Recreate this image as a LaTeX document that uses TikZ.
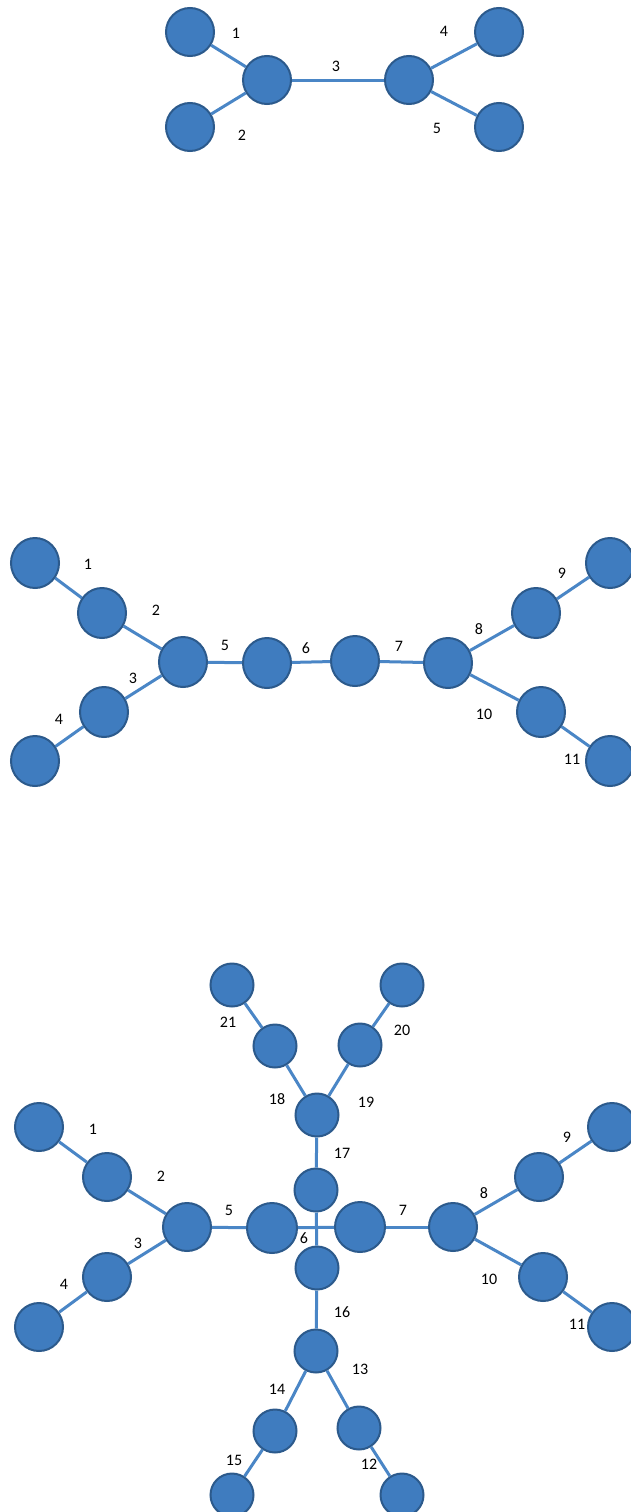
\documentclass[tikz,border=0pt]{standalone}
\usepackage{fontspec}
\setmainfont{Carlito}
\usepackage{xcolor}
\usepackage{tikz}
\definecolor{vfill}{HTML}{3F7CBF}
\definecolor{vdraw}{HTML}{2C5A8C}
\definecolor{elink}{HTML}{4A86C6}
\tikzset{
  vert/.style={
    draw=vdraw,
    fill=vfill,
    ellipse,
    line width=2pt,
    minimum width=48pt,
    minimum height=48pt,
    inner sep=0pt
  },
  tall/.style={vert,minimum width=48pt,minimum height=50pt},
  small/.style={vert,minimum width=43pt,minimum height=43pt},
  big/.style={vert,minimum width=50pt,minimum height=50pt},
  link/.style={draw=elink,line width=3pt},
  num/.style={font=\fontsize{16}{18}\selectfont,inner sep=0pt}
}
\usetikzlibrary{shapes.geometric}
\begin{document}
\begin{tikzpicture}[x=1pt,y=-1pt]
  \useasboundingbox[fill=white] (0,0) rectangle (631,1512);
  % first tree
  \node[vert] (a1) at (190,32) {};
  \node[vert] (a2) at (190,127) {};
  \node[vert] (a3) at (267,80) {};
  \node[vert] (a4) at (409,80) {};
  \node[vert] (a5) at (499,32) {};
  \node[vert] (a6) at (499,127) {};
  \draw[link] (a1) -- (a3);
  \draw[link] (a2) -- (a3);
  \draw[link] (a3) -- (a4);
  \draw[link] (a4) -- (a5);
  \draw[link] (a4) -- (a6);
  \node[num] (la1) at (236,33) {1};
  \node[num] (la2) at (242,135) {2};
  \node[num] (la3) at (336,66) {3};
  \node[num] (la4) at (444,31) {4};
  \node[num] (la5) at (437,128) {5};
  % second tree
  \node[tall] (b1) at (35,563) {};
  \node[tall] (b2) at (102,613) {};
  \node[tall] (b3) at (183,662) {};
  \node[tall] (b4) at (104,712) {};
  \node[tall] (b5) at (35,761) {};
  \node[tall] (b6) at (267,663) {};
  \node[tall] (b7) at (355,661) {};
  \node[tall] (b8) at (448,663) {};
  \node[tall] (b9) at (536,613) {};
  \node[tall] (b10) at (610,563) {};
  \node[tall] (b11) at (541,712) {};
  \node[tall] (b12) at (610,761) {};
  \draw[link] (b1) -- (b2);
  \draw[link] (b2) -- (b3);
  \draw[link] (b3) -- (b4);
  \draw[link] (b4) -- (b5);
  \draw[link] (b3) -- (b6);
  \draw[link] (b6) -- (b7);
  \draw[link] (b7) -- (b8);
  \draw[link] (b8) -- (b9);
  \draw[link] (b9) -- (b10);
  \draw[link] (b8) -- (b11);
  \draw[link] (b11) -- (b12);
  \node[num] (lb1) at (88,564) {1};
  \node[num] (lb2) at (156,610) {2};
  \node[num] (lb3) at (133,678) {3};
  \node[num] (lb4) at (59,719) {4};
  \node[num] (lb5) at (225,645) {5};
  \node[num] (lb6) at (306,648) {6};
  \node[num] (lb7) at (399,646) {7};
  \node[num] (lb8) at (479,629) {8};
  \node[num] (lb9) at (562,573) {9};
  \node[num] (lb10) at (484,714) {10};
  \node[num] (lb11) at (572,759) {11};
  % third tree
  \node[vert] (c1) at (39,1127) {};
  \node[vert] (c2) at (107,1177) {};
  \node[vert] (c3) at (187,1227) {};
  \node[vert] (c4) at (107,1277) {};
  \node[vert] (c5) at (39,1327) {};
  \node[big] (c6) at (272,1228) {};
  \node[big] (c7) at (360,1227) {};
  \node[vert] (c8) at (453,1227) {};
  \node[vert] (c9) at (539,1177) {};
  \node[vert] (c10) at (612,1127) {};
  \node[vert] (c11) at (543,1277) {};
  \node[vert] (c12) at (612,1327) {};
  \node[small] (up) at (316,1190) {};
  \node[small] (down) at (317,1268) {};
  \node[small] (top) at (317,1115) {};
  \node[small] (tl) at (275,1046) {};
  \node[small] (tr) at (360,1045) {};
  \node[small] (tll) at (232,985) {};
  \node[small] (trr) at (402,985) {};
  \node[small] (bot) at (316,1351) {};
  \node[small] (bl) at (275,1431) {};
  \node[small] (br) at (359,1428) {};
  \node[small] (bll) at (232,1495) {};
  \node[small] (brr) at (402,1495) {};
  \draw[link] (c1) -- (c2);
  \draw[link] (c2) -- (c3);
  \draw[link] (c3) -- (c4);
  \draw[link] (c4) -- (c5);
  \draw[link] (c3) -- (c6);
  \draw[link] (c6) -- (c7);
  \draw[link] (c7) -- (c8);
  \draw[link] (c8) -- (c9);
  \draw[link] (c9) -- (c10);
  \draw[link] (c8) -- (c11);
  \draw[link] (c11) -- (c12);
  \draw[link] (up) -- (down);
  \draw[link] (up) -- (top);
  \draw[link] (top) -- (tl);
  \draw[link] (top) -- (tr);
  \draw[link] (tl) -- (tll);
  \draw[link] (tr) -- (trr);
  \draw[link] (down) -- (bot);
  \draw[link] (bot) -- (bl);
  \draw[link] (bot) -- (br);
  \draw[link] (bl) -- (bll);
  \draw[link] (br) -- (brr);
  \node[num] (lc1) at (93,1129) {1};
  \node[num] (lc2) at (161,1176) {2};
  \node[num] (lc3) at (138,1243) {3};
  \node[num] (lc4) at (64,1284) {4};
  \node[num] (lc5) at (229,1210) {5};
  \node[num] (lc6) at (304,1238) {6};
  \node[num] (lc7) at (403,1210) {7};
  \node[num] (lc8) at (484,1193) {8};
  \node[num] (lc9) at (567,1137) {9};
  \node[num] (lc10) at (489,1279) {10};
  \node[num] (lc11) at (577,1324) {11};
  \node[num] (lc12) at (369,1464) {12};
  \node[num] (lc13) at (360,1369) {13};
  \node[num] (lc14) at (277,1389) {14};
  \node[num] (lc15) at (234,1460) {15};
  \node[num] (lc16) at (342,1312) {16};
  \node[num] (lc17) at (342,1153) {17};
  \node[num] (lc18) at (277,1099) {18};
  \node[num] (lc19) at (366,1102) {19};
  \node[num] (lc20) at (402,1030) {20};
  \node[num] (lc21) at (228,1022) {21};
\end{tikzpicture}
\end{document}
